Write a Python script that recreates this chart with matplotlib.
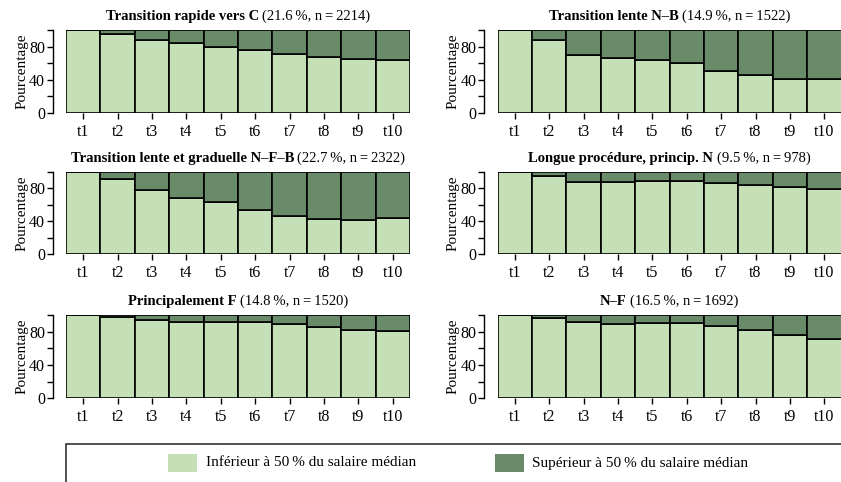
import matplotlib
matplotlib.use("Agg")
import matplotlib.pyplot as plt
from matplotlib.patches import Rectangle
from matplotlib.ticker import FixedLocator, NullFormatter

plt.rcParams['font.family'] = ['Liberation Serif', 'DejaVu Serif']

periods = ["t1", "t2", "t3", "t4", "t5", "t6", "t7", "t8", "t9", "t10"]

titles_bold = ["Transition rapide vers C", "Transition lente N\u2013B",
               "Transition lente et graduelle N\u2013F\u2013B", "Longue procédure, princip. N",
               "Principalement F", "N\u2013F"]
titles_normal = ["(21.6\u2009%, n\u2009=\u20092214)", "(14.9\u2009%, n\u2009=\u20091522)",
                 "(22.7\u2009%, n\u2009=\u20092322)", "(9.5\u2009%, n\u2009=\u2009978)",
                 "(14.8\u2009%, n\u2009=\u20091520)", "(16.5\u2009%, n\u2009=\u20091692)"]

# share (%) below 50 % of the median wage, per period
low_rapide_c = [100, 95, 88, 84, 80, 75.5, 71.5, 67.5, 64.5, 64]
low_lente_nb = [100, 88, 70, 66, 64, 59.5, 51, 45, 40.5, 41]
low_graduelle_nfb = [100, 92, 78, 69, 63, 54, 46.5, 43, 42, 44]
low_longue_n = [100, 95, 88, 87.5, 89, 88.5, 86.5, 84.5, 81.5, 79]
low_princip_f = [100, 97, 94, 91.5, 92, 91, 89.5, 86, 82, 80.5]
low_nf = [100, 96, 91, 89.5, 90.5, 90.5, 86.5, 82, 76, 71.5]

series = [low_rapide_c, low_lente_nb, low_graduelle_nfb, low_longue_n, low_princip_f, low_nf]

legend_labels = ["Inférieur à 50\u2009% du salaire médian", "Supérieur à 50\u2009% du salaire médian"]

LIGHT = "#C5DFB7"
DARK = "#6A8B6A"

W, H = 841, 482
fig = plt.figure(figsize=(W / 100, H / 100), dpi=100)

col_x = [(66, 410), (497.5, 841.5)]
row_y = [(30, 112.7), (172, 254.3), (315, 398.3)]

axes = []
for i in range(6):
    r, c = divmod(i, 2)
    x0, x1 = col_x[c]
    y0, y1 = row_y[r]
    ax = fig.add_axes([x0 / W, 1 - y1 / H, (x1 - x0) / W, (y1 - y0) / H])
    axes.append(ax)
    low = series[i]
    high = [100 - v for v in low]
    xs = list(range(len(periods)))
    ax.bar(xs, low, width=1.0, color=LIGHT, edgecolor="black", linewidth=1.2)
    ax.bar(xs, high, bottom=low, width=1.0, color=DARK, edgecolor="black", linewidth=1.2)
    ax.set_xlim(-0.5, 9.5)
    ax.set_ylim(0, 100)
    for s in ["top", "right", "bottom"]:
        ax.spines[s].set_visible(False)
    ax.spines["left"].set_position(("outward", 9.5))
    ax.spines["left"].set_bounds(0, 100)
    ax.spines["left"].set_linewidth(1.0)
    ax.set_xticks(xs)
    ax.set_xticklabels(periods, fontsize=11.5)
    ax.tick_params(axis="x", length=4, width=1.0, pad=4)
    ax.set_yticks([0, 40, 80])
    ax.set_yticklabels(["0", "40", "80"], fontsize=11.5)
    ax.yaxis.set_minor_locator(FixedLocator([20, 60, 100]))
    ax.yaxis.set_minor_formatter(NullFormatter())
    ax.tick_params(axis="y", which="both", length=4, width=1.0, pad=1.5)
    ax.set_ylabel("Pourcentage", fontsize=11, labelpad=0.5)
    ax.patch.set_visible(False)

# mixed-weight titles
fig.canvas.draw()
renderer = fig.canvas.get_renderer()
for i, ax in enumerate(axes):
    r, c = divmod(i, 2)
    x0, x1 = col_x[c]
    y0, _ = row_y[r]
    ty = 1 - (y0 - 10) / H
    tb = fig.text(0, ty, titles_bold[i], fontsize=10.5, weight="bold", va="baseline", ha="left")
    tn = fig.text(0, ty, titles_normal[i], fontsize=10.5, va="baseline", ha="left")
    wb = tb.get_window_extent(renderer).width
    wn = tn.get_window_extent(renderer).width
    gap = 3.5
    total = wb + gap + wn
    cx = (x0 + x1) / 2
    start = cx - total / 2
    tb.set_x(start / W)
    tn.set_x((start + wb + gap) / W)

# legend box
fig.patches.append(Rectangle((66 / W, 1 - 500 / H), (850 - 66) / W, (500 - 444) / H,
                             transform=fig.transFigure, facecolor="white",
                             edgecolor="#333333", linewidth=1.2, zorder=0))
fig.patches.append(Rectangle((168 / W, 1 - 472 / H), 29 / W, 18 / H,
                             transform=fig.transFigure, facecolor=LIGHT, edgecolor="none"))
fig.patches.append(Rectangle((495 / W, 1 - 472 / H), 29 / W, 18 / H,
                             transform=fig.transFigure, facecolor=DARK, edgecolor="none"))
fig.text(206 / W, 1 - 463 / H, legend_labels[0], fontsize=11, va="center", ha="left")
fig.text(532 / W, 1 - 463 / H, legend_labels[1], fontsize=11, va="center", ha="left")

fig.savefig("out.png", dpi=100)
